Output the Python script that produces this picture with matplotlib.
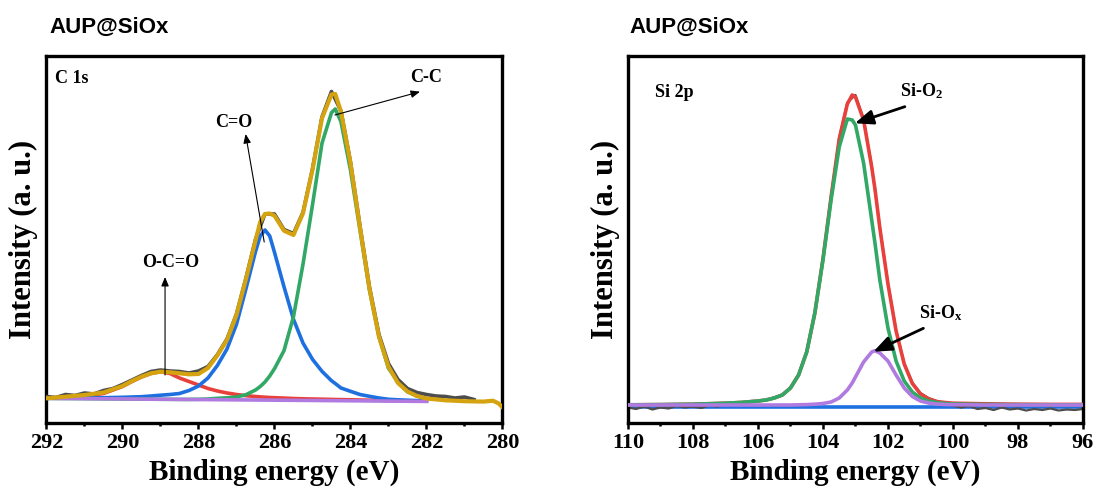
import matplotlib
matplotlib.use("Agg")
import matplotlib.pyplot as plt
from matplotlib.ticker import MultipleLocator

# ---------------- C 1s panel data (binding energy in eV, intensity in a.u.) ----------------
c1s_energy = [292, 291.5, 291, 290.5, 290, 289.75, 289.5, 289.25, 289, 288.75, 288.5, 288.25,
              288, 287.75, 287.5, 287.25, 287, 286.75, 286.5, 286.375, 286.25, 286.125, 286,
              285.75, 285.5, 285.25, 285, 284.75, 284.5, 284.4, 284.25, 284, 283.75, 283.5,
              283.25, 283, 282.75, 282.5, 282.25, 282]
c1s_oco = [26.8, 27.5, 29, 31.5, 38.5, 43.5, 48, 51.5, 53.3, 51.5, 47, 43.5,
           40, 36.5, 34, 32, 30.5, 29.3, 28.5, 28.1, 27.8, 27.5, 27.3,
           26.9, 26.5, 26.2, 26, 25.8, 25.6, 25.5, 25.4, 25.2, 25, 24.8,
           24.7, 24.5, 24.3, 24.1, 24, 23.8]
c1s_co = [26.7, 26.8, 27, 27.3, 27.7, 28, 28.3, 29, 29.8, 30.5, 31.5, 34.5,
          39, 47, 59.7, 76, 100.7, 136.3, 173.3, 189, 195, 189, 172.7,
          138.3, 105.7, 82, 65.7, 53.7, 44.3, 41.5, 37, 33.7, 30.5, 28.7,
          27, 25.7, 25.2, 24.8, 24.4, 24.1]
c1s_cc = [26.7, 26.5, 26.4, 26.2, 26, 26, 25.9, 25.8, 25.7, 25.7, 25.6, 25.6,
          25.7, 26, 26.7, 27.2, 28, 30.3, 35, 38.5, 43, 49, 56.3,
          74.3, 108.3, 160.7, 220, 281.7, 312.3, 316, 303.3, 255, 195, 135,
          88.3, 56.7, 43.3, 33.3, 29, 26.3]
c1s_bg_energy = [292, 282]
c1s_bg = [26.7, 23.6]
c1s_fit_energy = c1s_energy + [281.5, 281, 280.5, 280.25, 280.1, 280]
c1s_fit = [26.7, 28.3, 30, 32.5, 39, 44, 48.3, 51.7, 53.3, 52.7, 51.7, 50.7,
           51, 57, 69.7, 85, 110, 146, 184.3, 203, 211, 211.5, 209.3,
           194.3, 190, 211.7, 255, 306.7, 330.5, 331, 313.3, 262, 197.7, 136.3,
           88.3, 58.3, 42, 33.5, 29, 26.5,
           24.7, 23.8, 23.4, 24.3, 21.5, 17.7]
c1s_raw_energy = [292, 291.75, 291.5, 291.25, 291, 290.75, 290.5, 290.25, 290, 289.75, 289.5,
                  289.25, 289, 288.75, 288.5, 288.25, 288, 287.75, 287.5, 287.25, 287, 286.75,
                  286.5, 286.25, 286, 285.75, 285.5, 285.25, 285, 284.75, 284.5, 284.25, 284,
                  283.75, 283.5, 283.25, 283, 282.75, 282.5, 282.25, 282, 281.75, 281.5,
                  281.25, 281, 280.75]
c1s_raw = [28.5, 27.5, 30.5, 29.5, 32, 31, 34.5, 36.5, 40.5, 45, 49.5,
           53.5, 55, 54, 53.5, 52, 54, 58.5, 70.5, 86, 111, 147,
           185.5, 211, 211, 195.5, 191.5, 212.5, 256, 308, 333.5, 314, 263,
           199, 138, 90.5, 61.5, 45.5, 36.5, 32.5, 30.5, 29, 28.5,
           27, 28, 25.5]

# ---------------- Si 2p panel data ----------------
si_energy = [110, 109, 108, 107, 106.5, 106, 105.75, 105.5, 105.25, 105, 104.75, 104.5,
             104.25, 104, 103.75, 103.5, 103.25, 103.1, 103, 102.75, 102.5, 102.4, 102.25,
             102, 101.75, 101.5, 101.25, 101, 100.75, 100.5, 100.25, 100, 99, 98, 97, 96]
si_fit = [20.2, 20.4, 20.8, 21.8, 22.6, 24, 25, 27, 30, 37, 50, 73,
          112, 166, 228, 286, 321, 330, 328, 305, 258, 236, 197,
          141, 94, 61, 41.5, 31, 26, 23.5, 22.5, 21.8, 21.2, 20.8, 20.6, 20.6]
si_sio2 = [20.2, 20.4, 20.8, 21.8, 22.6, 24, 25, 27, 30, 37, 50, 73,
           112, 165, 225, 278, 306, 305, 300, 262, 205, 182, 145,
           97, 64, 44, 33, 27, 24, 22.5, 21.5, 21, 20.5, 20.3, 20.2, 20.2]
si_siox = [20, 20, 20, 20, 20, 20, 20, 20, 20, 20, 20.2, 20.4,
           20.8, 21.5, 23, 27, 35, 42, 48, 63, 73, 74.3, 72,
           64, 50, 37, 28.5, 24, 22, 21, 20.5, 20.3, 20, 20, 20, 20]
si_bg_energy = [110, 96]
si_bg = [18.3, 18.3]
si_raw_energy = [110, 109.75, 109.5, 109.25, 109, 108.75, 108.5, 108.25, 108, 107.75, 107.5,
                 107.25, 107, 106.75, 106.5, 106.25, 106, 105.75, 105.5, 105.25, 105, 104.75,
                 104.5, 104.25, 104, 103.75, 103.5, 103.25, 103, 102.75, 102.5, 102.25, 102,
                 101.75, 101.5, 101.25, 101, 100.75, 100.5, 100.25, 100, 99.75, 99.5, 99.25,
                 99, 98.75, 98.5, 98.25, 98, 97.75, 97.5, 97.25, 97, 96.75, 96.5, 96.25, 96]
si_raw = [17.5, 16, 18.5, 15.5, 17.5, 16.5, 19, 17.5, 18.5, 17, 19.5,
          18.5, 21, 21.5, 22.5, 23, 24, 25, 27.5, 30.5, 37.5, 50.5,
          73.5, 112.5, 167, 229, 287.5, 322.5, 330, 306, 259, 198, 142,
          95, 62, 42.5, 32, 27, 24, 21, 19.5, 17.5, 19, 16,
          17, 15, 17.5, 15.5, 16.5, 14.5, 16, 15, 16.5, 14.5, 15.5, 15, 16]

x_major_left = [292, 290, 288, 286, 284, 282, 280]
x_major_right = [110, 108, 106, 104, 102, 100, 98, 96]

# ---------------- styling ----------------
plt.rcParams['font.family'] = ['Liberation Serif', 'DejaVu Serif']
plt.rcParams['font.weight'] = 'bold'
plt.rcParams['mathtext.fontset'] = 'custom'
plt.rcParams['mathtext.rm'] = 'Liberation Serif:bold'
plt.rcParams['mathtext.it'] = 'Liberation Serif:bold'
plt.rcParams['mathtext.bf'] = 'Liberation Serif:bold'

RED = '#E8403A'
BLUE = '#1E6FE0'
GREEN = '#31A865'
PURPLE = '#B07AE0'
GOLD = '#D4A30F'
DARK = '#4D4D4D'

fig = plt.figure(figsize=(10.99, 4.88), dpi=100)
ax1 = fig.add_axes([0.0423, 0.1338, 0.4149, 0.7521])
ax2 = fig.add_axes([0.5714, 0.1338, 0.4140, 0.7521])

YLIM = (2.3, 369.3)


def style_axis(ax, xlim, majors):
    ax.set_xlim(*xlim)
    ax.set_ylim(*YLIM)
    ax.set_xticks(majors)
    ax.xaxis.set_minor_locator(MultipleLocator(1))
    ax.set_yticks([])
    for s in ax.spines.values():
        s.set_linewidth(2.4)
    ax.tick_params(axis='x', which='major', direction='out', length=4.2, width=1.8,
                   labelsize=16, pad=3)
    ax.tick_params(axis='x', which='minor', direction='out', length=2.2, width=1.8)
    for lab in ax.get_xticklabels():
        lab.set_fontweight('bold')
    ax.set_xlabel('Binding energy (eV)', fontsize=21, fontweight='bold', labelpad=4)
    ax.set_ylabel('Intensity (a. u.)', fontsize=22, fontweight='bold', labelpad=6)


# ---- left: C 1s ----
ax1.plot(c1s_energy, c1s_oco, color=RED, lw=2.6, zorder=2)
ax1.plot(c1s_energy, c1s_co, color=BLUE, lw=2.6, zorder=2)
ax1.plot(c1s_energy, c1s_cc, color=GREEN, lw=2.6, zorder=2)
ax1.plot(c1s_bg_energy, c1s_bg, color=PURPLE, lw=2.6, zorder=3)
ax1.plot(c1s_raw_energy, c1s_raw, color=DARK, lw=2.6, zorder=4)
ax1.plot(c1s_fit_energy, c1s_fit, color=GOLD, lw=3.0, zorder=5)
style_axis(ax1, (292, 280), x_major_left)

thin = dict(arrowstyle='-|>,head_length=0.6,head_width=0.25', color='black', lw=0.8,
            mutation_scale=9, shrinkA=0, shrinkB=0)
ax1.text(0.019, 0.939, 'C 1s', transform=ax1.transAxes, fontsize=13, fontweight='bold',
         ha='left', va='center')
ax1.text(287.07, 302, 'C=O', fontsize=13, fontweight='bold', ha='center', va='center')
ax1.annotate('', xy=(286.76, 291), xytext=(286.27, 183), arrowprops=thin, zorder=6)
ax1.text(288.72, 162.5, 'O-C=O', fontsize=13, fontweight='bold', ha='center', va='center')
ax1.annotate('', xy=(288.88, 148), xytext=(288.88, 50), arrowprops=thin, zorder=6)
ax1.text(282.01, 347, 'C-C', fontsize=13, fontweight='bold', ha='center', va='center')
ax1.annotate('', xy=(282.17, 333.3), xytext=(284.41, 310), arrowprops=thin, zorder=6)

# ---- right: Si 2p ----
ax2.plot(si_bg_energy, si_bg, color=BLUE, lw=2.6, zorder=2)
ax2.plot(si_raw_energy, si_raw, color=DARK, lw=1.6, zorder=2.5)
ax2.plot(si_energy, si_fit, color=RED, lw=2.6, zorder=3)
ax2.plot(si_energy, si_sio2, color=GREEN, lw=2.6, zorder=4)
ax2.plot(si_energy, si_siox, color=PURPLE, lw=2.6, zorder=5)
style_axis(ax2, (110, 96), x_major_right)

thick = dict(arrowstyle='-|>,head_length=0.55,head_width=0.22', color='black', lw=2.0,
             mutation_scale=20, shrinkA=0, shrinkB=0)
ax2.text(0.059, 0.90, 'Si 2p', transform=ax2.transAxes, fontsize=13, fontweight='bold',
         ha='left', va='center')
ax2.text(101.63, 328.3, 'Si-O$_2$', fontsize=13, fontweight='bold', ha='left', va='baseline')
ax2.annotate('', xy=(103.02, 301.7), xytext=(101.48, 318.3), arrowprops=thick, zorder=6)
ax2.text(101.05, 106.7, 'Si-O$_\\mathrm{x}$', fontsize=13, fontweight='bold', ha='left',
         va='baseline')
ax2.annotate('', xy=(102.45, 73.3), xytext=(100.91, 96.7), arrowprops=thick, zorder=6)

# ---- panel titles ----
fig.text(0.0449, 0.9324, 'AUP@SiOx', fontsize=16, fontweight='bold',
         family=['Liberation Sans', 'DejaVu Sans'], ha='left', va='baseline')
fig.text(0.5723, 0.9324, 'AUP@SiOx', fontsize=16, fontweight='bold',
         family=['Liberation Sans', 'DejaVu Sans'], ha='left', va='baseline')

fig.savefig('out.png', dpi=100)
